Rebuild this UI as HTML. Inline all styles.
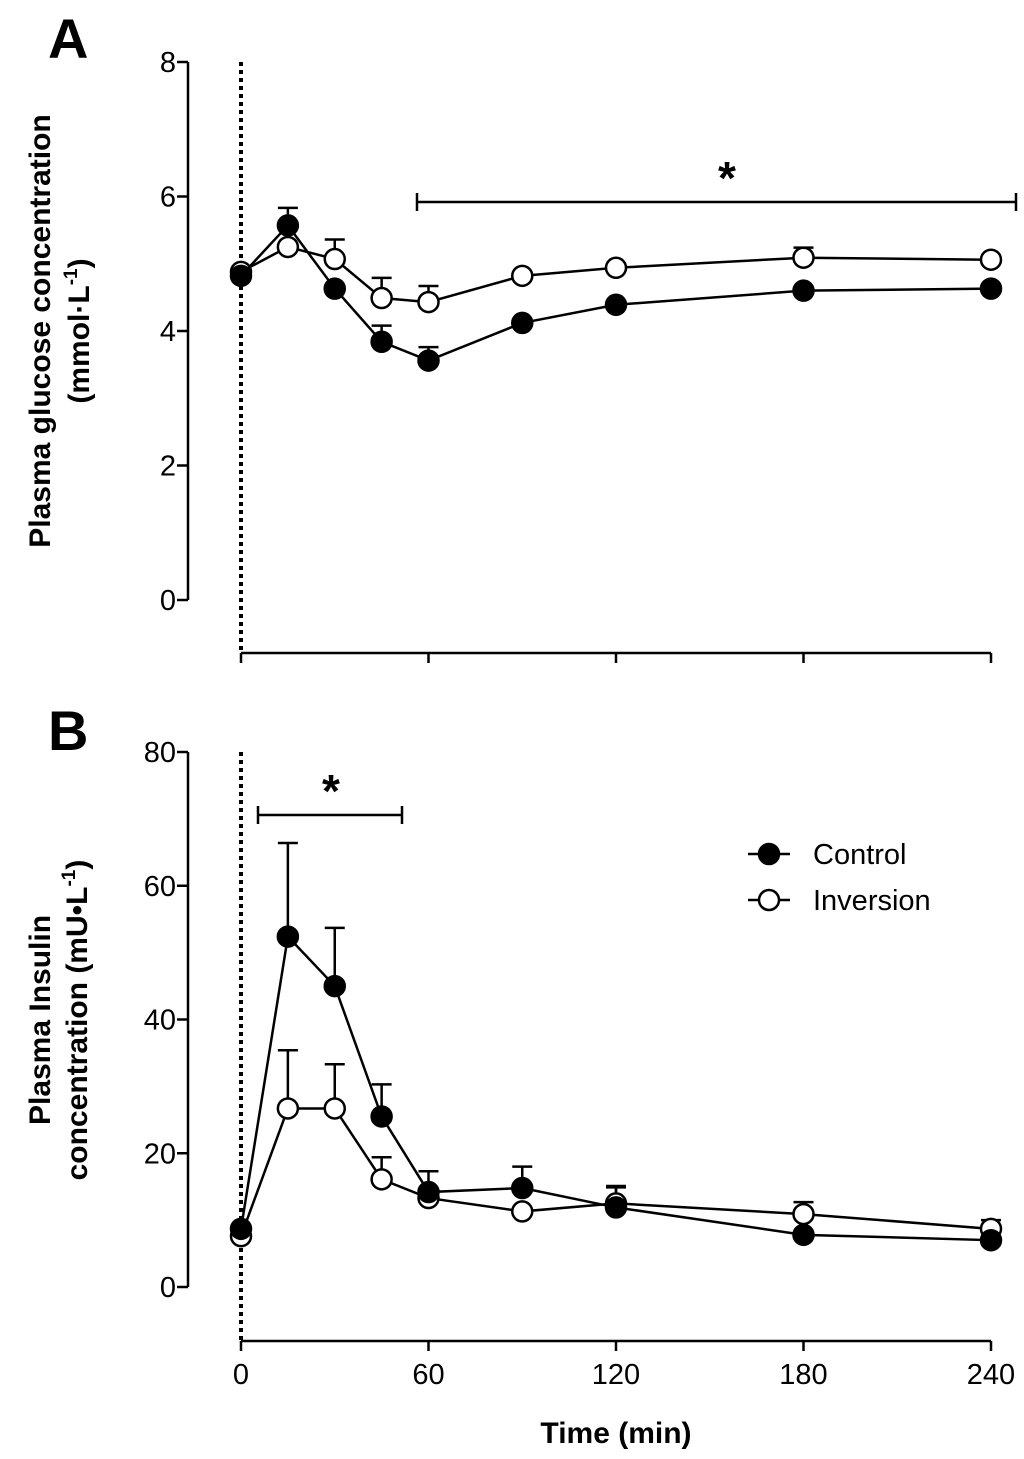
<!DOCTYPE html>
<html><head><meta charset="utf-8"><style>
html,body{margin:0;padding:0;background:#fff}
svg{display:block;font-family:"Liberation Sans",Arial,sans-serif}
</style></head><body>
<svg id="fig" width="1024" height="1459" viewBox="0 0 1024 1459" xmlns="http://www.w3.org/2000/svg">
<text x="48" y="58" font-size="56" font-weight="bold">A</text>
<text x="48" y="750" font-size="56" font-weight="bold">B</text>
<text transform="translate(50,331) rotate(-90)" text-anchor="middle" font-size="30" font-weight="bold">Plasma glucose concentration</text>
<text transform="translate(89,331) rotate(-90)" text-anchor="middle" font-size="30" font-weight="bold">(mmol·L<tspan font-size="19" dy="-12">-1</tspan><tspan dy="12">)</tspan></text>
<text transform="translate(50,1020) rotate(-90)" text-anchor="middle" font-size="30" font-weight="bold">Plasma Insulin</text>
<text transform="translate(87,1020) rotate(-90)" text-anchor="middle" font-size="30" font-weight="bold">concentration (mU•L<tspan font-size="19" dy="-12">-1</tspan><tspan dy="12">)</tspan></text>
<text x="616" y="1443" text-anchor="middle" font-size="30" font-weight="bold">Time (min)</text>
<g id="legend">
<g>
<line x1="748" y1="854" x2="790" y2="854" stroke="#000" stroke-width="2.5"/>
<circle cx="769" cy="854" r="10" fill="#000" stroke="#000" stroke-width="2.5"/>
<text x="813" y="864" font-size="29">Control</text></g>
<g>
<line x1="748" y1="900" x2="790" y2="900" stroke="#000" stroke-width="2.5"/>
<circle cx="769" cy="900" r="10" fill="#fff" stroke="#000" stroke-width="2.5"/>
<text x="813" y="910" font-size="29">Inversion</text></g>
</g>
</svg>
<script>
const times = [0, 15, 30, 45, 60, 90, 120, 180, 240];
const glucoseControl = [4.82, 5.57, 4.63, 3.84, 3.56, 4.12, 4.39, 4.6, 4.63];
const glucoseControlErr = [0, 0.26, 0, 0.24, 0.2, 0, 0, 0, 0];
const glucoseInversion = [4.88, 5.25, 5.07, 4.49, 4.43, 4.82, 4.94, 5.09, 5.06];
const glucoseInversionErr = [0, 0, 0.29, 0.3, 0.24, 0, 0, 0.15, 0];
const insulinControl = [8.7, 52.4, 45, 25.5, 14.2, 14.8, 11.9, 7.8, 7.0];
const insulinControlErr = [0, 14, 8.7, 4.8, 3.1, 3.2, 3.0, 0, 0];
const insulinInversion = [7.6, 26.7, 26.7, 16.1, 13.3, 11.3, 12.5, 10.9, 8.7];
const insulinInversionErr = [0, 8.7, 6.6, 3.3, 0, 0, 2.6, 1.8, 1.3];
const xTicks = [0, 60, 120, 180, 240];
const glucoseTicks = [0, 2, 4, 6, 8];
const insulinTicks = [0, 20, 40, 60, 80];

const NS = 'http://www.w3.org/2000/svg';
const svg = document.getElementById('fig');
const legend = document.getElementById('legend');
const xS = t => 241 + t * (991 - 241) / 240;
function mk(tag, attrs) {
  const e = document.createElementNS(NS, tag);
  for (const k in attrs) e.setAttribute(k, attrs[k]);
  svg.insertBefore(e, legend);
  return e;
}
function panel(p) {
  const yS = v => p.y0 + (p.y1 - p.y0) * v / p.max;
  let e;
  e = mk('line', {x1: 188, y1: p.y1, x2: 188, y2: p.y0, stroke: '#000', 'stroke-width': 2.5});
  
  
  p.ticks.forEach(v => {
    const y = yS(v);
    e = mk('line', {x1: 177, y1: y, x2: 188, y2: y, stroke: '#000', 'stroke-width': 2.5});
    
    
    e = mk('text', {x: 176, y: y + 10, 'text-anchor': 'end', 'font-size': 29});
    e.textContent = v;
    
    
  });
  e = mk('line', {x1: xS(0), y1: p.xa, x2: xS(240), y2: p.xa, stroke: '#000', 'stroke-width': 2.5});
  
  
  xTicks.forEach(t => {
    e = mk('line', {x1: xS(t), y1: p.xa, x2: xS(t), y2: p.xa + 10, stroke: '#000', 'stroke-width': 2.5});
    
    
    if (p.labels) {
      e = mk('text', {x: xS(t), y: p.xa + 43, 'text-anchor': 'middle', 'font-size': 29});
      e.textContent = t;
      
      
    }
  });
  e = mk('line', {x1: xS(0), y1: p.y1, x2: xS(0), y2: p.xa, stroke: '#000', 'stroke-width': 4, 'stroke-dasharray': '4,4'});
  
  
  e = mk('path', {d: `M${p.bar[0]},${p.bar[2]-9}V${p.bar[2]+9}M${p.bar[0]},${p.bar[2]}H${p.bar[1]}M${p.bar[1]},${p.bar[2]-9}V${p.bar[2]+9}`, stroke: '#000', 'stroke-width': 2.5, fill: 'none'});
  
  
  e = mk('text', {x: p.star, y: p.bar[2] - 8, 'text-anchor': 'middle', 'font-size': 46, 'font-weight': 'bold'});
  e.textContent = '*';
  
  
  p.series.forEach(s => {
    s.vals.forEach((v, i) => {
      if (s.err[i] > 0) {
        const x = xS(times[i]), yv = yS(v), yt = yS(v + s.err[i]);
        e = mk('path', {d: `M${x},${yv}V${yt}M${x-10},${yt}H${x+10}`, stroke: '#000', 'stroke-width': 2.5, fill: 'none'});
        
        
      }
    });
  });
  p.series.forEach(s => {
    e = mk('polyline', {points: s.vals.map((v, i) => xS(times[i]) + ',' + yS(v)).join(' '), stroke: '#000', 'stroke-width': 2.5, fill: 'none'});
    
    
    s.vals.forEach((v, i) => {
      e = mk('circle', {cx: xS(times[i]), cy: yS(v), r: 10, fill: s.fill, stroke: '#000', 'stroke-width': 2.5});
      
      
    });
  });
}
panel({id: 'glucose', y0: 600, y1: 62, max: 8, xa: 653, ticks: glucoseTicks, labels: false, bar: [417, 1016, 202], star: 727,
  series: [{name: 'inversion', vals: glucoseInversion, err: glucoseInversionErr, fill: '#fff'},
           {name: 'control', vals: glucoseControl, err: glucoseControlErr, fill: '#000'}]});
panel({id: 'insulin', y0: 1287, y1: 752, max: 80, xa: 1341, ticks: insulinTicks, labels: true, bar: [258, 402, 815], star: 331,
  series: [{name: 'inversion', vals: insulinInversion, err: insulinInversionErr, fill: '#fff'},
           {name: 'control', vals: insulinControl, err: insulinControlErr, fill: '#000'}]});
</script>
</body></html>
